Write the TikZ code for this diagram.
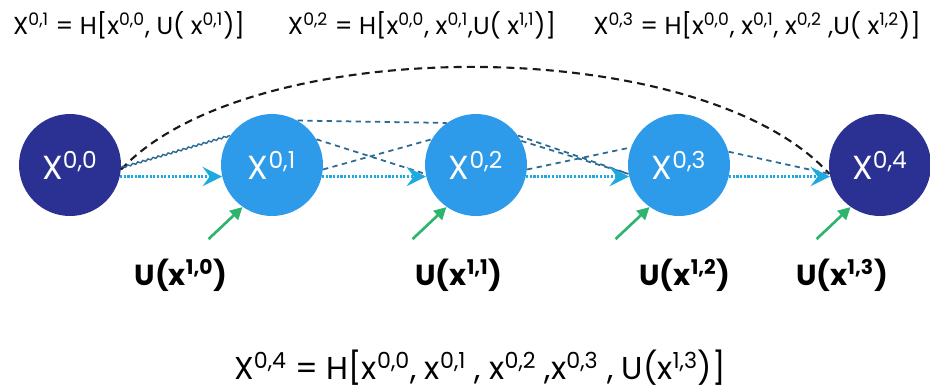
\documentclass[tikz,border=0pt]{standalone}
\usepackage{fontspec}
\setmainfont{Poppins}
\usepackage{xcolor}
\usepackage{tikz}
\usetikzlibrary{positioning,calc,arrows.meta,decorations.pathmorphing}
\definecolor{CNavy}{HTML}{2B3192}
\definecolor{CBlue}{HTML}{2E9BEA}
\definecolor{CCyan}{HTML}{1EAADF}
\definecolor{CTeal}{HTML}{2A6A93}
\definecolor{CGreen}{HTML}{2DB56E}
\newcommand\sups[1]{\textsuperscript{#1}}
\tikzset{
  fmap/.style={circle, minimum size=2.04cm, inner sep=0pt, text=white,
    font=\fontsize{19}{19}\selectfont},
  dotskip/.style={CCyan, line width=1.7pt, dash pattern=on 1.2pt off 0.9pt,
    -{Stealth[length=11pt,width=11pt,inset=4pt]}},
  denselink/.style={CTeal, dash pattern=on 3pt off 2.5pt, line width=1pt},
  longdash/.style={black!90, dash pattern=on 4.5pt off 3pt, line width=1.2pt},
  upin/.style={CGreen, line width=1.5pt, -{Triangle[length=7pt,width=7pt]}},
  ulabel/.style={font=\fontsize{16.5}{16.5}\selectfont\bfseries},
  formula/.style={font=\fontsize{14}{14}\selectfont}
}
\begin{document}
\begin{tikzpicture}[x=0.02cm, y=-0.02cm, every node/.style={align=center}]
  \useasboundingbox (0,0) rectangle (930,390);
  % the five feature maps of the top row
  \foreach \nm/\cx/\col/\lbl in {x00/70/CNavy/{0,0}, x01/272/CBlue/{0,1},
      x02/476/CBlue/{0,2}, x03/679/CBlue/{0,3}, x04/880/CNavy/{0,4}}{
    \node[fmap, fill=\col] (\nm) at (\cx,165) {X\sups{\lbl}};
  }
  % formulas
  \node[formula] (f01) at (129,25) {X\sups{0,1} = H[x\sups{0,0}, U( x\sups{0,1})]};
  \node[formula] (f02) at (422,25) {X\sups{0,2} = H[x\sups{0,0}, x\sups{0,1},U( x\sups{1,1})]};
  \node[formula] (f03) at (757,25) {X\sups{0,3} = H[x\sups{0,0}, x\sups{0,1}, x\sups{0,2} ,U( x\sups{1,2})]};
  \node[font=\fontsize{18}{18}\selectfont] (f04) at (480,368)
    {X\sups{0,4} = H[x\sups{0,0}, x\sups{0,1} , x\sups{0,2} ,x\sups{0,3} , U(x\sups{1,3})]};
  % upsampled inputs from the level below
  \node[ulabel] (u10) at (181,275) {U(x\sups{1,0})};
  \node[ulabel] (u11) at (459,275) {U(x\sups{1,1})};
  \node[ulabel] (u12) at (685,275) {U(x\sups{1,2})};
  \node[ulabel] (u13) at (842,275) {U(x\sups{1,3})};
  \foreach \b in {x01,x02,x03,x04}{
    \path (\b.235) ++(-34,32) coordinate (g\b);
    \draw[upin] (g\b) -- (\b.235);
  }
  % dense skip links
  \draw[longdash] (x00.-5) .. controls (250,32) and (700,32) .. (x04.190);
  \draw[CTeal, line width=0.8pt, decorate,
    decoration={snake, amplitude=0.5pt, segment length=3pt}] (x00.-3) -- (x01.145);
  \draw[denselink] (x01.60) -- (x02.125);
  \draw[denselink] (x01.30) -- (x02.190);
  \draw[denselink] (x01.-5) -- (x02.150);
  \draw[denselink] (x02.35) -- (x03.190);
  \draw[denselink] (x02.28) -- (x03.190);
  \draw[denselink] (x02.-5) -- (x03.160);
  \draw[denselink] (x03.15) -- (x04.190);
  % plain skip arrows
  \foreach \a/\b in {x00/x01, x01/x02, x02/x03, x03/x04}
    \draw[dotskip] (\a.-13) -- (\b.193);
\end{tikzpicture}
\end{document}
